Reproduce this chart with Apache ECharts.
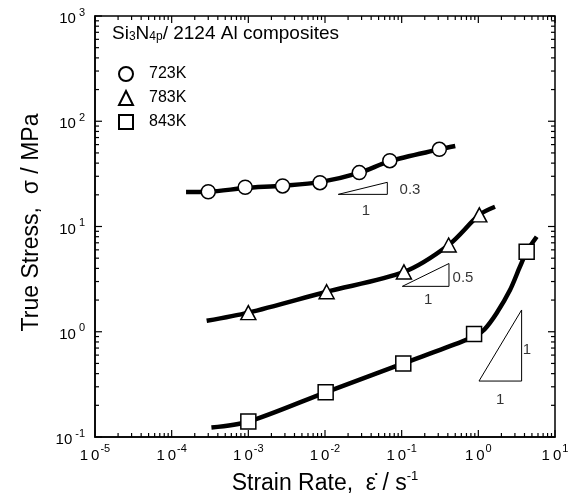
<!DOCTYPE html>
<html><head><meta charset="utf-8">
<script src="https://cdn.jsdelivr.net/npm/echarts@6/dist/echarts.min.js"></script>
<style>html,body{margin:0;padding:0;background:#fff}#c{width:585px;height:496px}</style>
</head><body><div id="c"></div>
<script>
// ---- axis ranges & tick labels ----
const xMin = 1e-5, xMax = 10, yMin = 0.1, yMax = 1000;
const xExp = ['-5', '-4', '-3', '-2', '-1', '0', '1'];
const yExp = ['-1', '0', '1', '2', '3'];
const seriesNames = ['723K', '783K', '843K'];

// ---- measured data points (strain rate, true stress) ----
const pts723 = [[3.0e-4, 21.4], [9.1e-4, 23.6], [2.8e-3, 24.3], [8.6e-3, 26.1], [2.8e-2, 32.5], [7.0e-2, 42.2], [0.31, 54.1]];
const pts783 = [[1.0e-3, 1.52], [1.05e-2, 2.4], [0.107, 3.7], [0.41, 6.67], [1.03, 12.9]];
const pts843 = [[1.0e-3, 0.14], [1.02e-2, 0.266], [0.105, 0.5], [0.88, 0.95], [4.27, 5.76]];

// ---- fitted curves ----
const fit723 = [[1.54e-4, 21.3], [3.0e-4, 21.4], [9.1e-4, 23.2], [2.8e-3, 24.4], [8.6e-3, 26.4], [2.8e-2, 32.3], [7.0e-2, 41.8], [0.31, 54], [0.5, 58.2]];
const fit783 = [[2.86e-4, 1.27], [1.0e-3, 1.52], [1.05e-2, 2.4], [0.107, 3.7], [0.41, 6.67], [1.03, 12.9], [1.65, 15.4]];
const fit843 = [[3.3e-4, 0.123], [1.0e-3, 0.14], [1.02e-2, 0.266], [0.105, 0.5], [0.6, 0.8], [0.95, 0.93], [1.2, 1.05], [1.73, 1.5], [2.59, 2.49], [3.49, 4.15], [4.27, 5.76], [5.77, 8.0]];

// ---- slope triangles (annotations) ----
const triA = [[0.0149, 20.2], [0.065, 20.2], [0.065, 26.3], [0.0149, 20.2]];
const triB = [[0.102, 2.7], [0.414, 2.7], [0.414, 4.45], [0.102, 2.7]];
const triC = [[1.02, 0.34], [3.67, 0.34], [3.67, 1.61], [1.02, 0.34]];
const annotText = ['0.3', '1', '0.5', '1', '1', '1'];
const annotPos = [[0.1285, 22.2], [0.0343, 14.1], [0.631, 3.24], [0.222, 2.0], [4.31, 0.671], [1.92, 0.225]];

// tick positions (decades and 2..9 subdivisions)
const xTicks = [], yTicks = [];
for (let k = -5; k <= 1; k++) for (let m = 1; m <= 9; m++) { const v = m * Math.pow(10, k); if (v <= xMax * 1.0001) xTicks.push(v); }
for (let k = -1; k <= 3; k++) for (let m = 1; m <= 9; m++) { const v = m * Math.pow(10, k); if (v <= yMax * 1.0001) yTicks.push(v); }
function isDecade(v) { const l = Math.log10(v); return Math.abs(l - Math.round(l)) < 1e-6; }

const FONT = 'Liberation Sans, Arial, sans-serif';
const chart = echarts.init(document.getElementById('c'), null, { renderer: 'canvas' });

const lineStyle = { color: '#000', width: 4.5 };
const markStyle = { color: '#fff', borderColor: '#000', borderWidth: 1.5, opacity: 1 };
const thin = { color: '#000', width: 1 };

function tickSeriesX() {
  return {
    type: 'custom', coordinateSystem: 'cartesian2d', silent: true, z: 1,
    data: xTicks.map(v => [v, 1]),
    renderItem: (p, api) => {
      const v = api.value(0);
      const len = isDecade(v) ? 7 : 4;
      const b = api.coord([v, yMin]), t = api.coord([v, yMax]);
      const st = { stroke: '#000', lineWidth: 1.2 };
      return { type: 'group', children: [
        { type: 'line', shape: { x1: b[0], y1: b[1], x2: b[0], y2: b[1] - len }, style: st },
        { type: 'line', shape: { x1: t[0], y1: t[1], x2: t[0], y2: t[1] + len }, style: st }
      ] };
    }
  };
}
function tickSeriesY() {
  return {
    type: 'custom', coordinateSystem: 'cartesian2d', silent: true, z: 1,
    data: yTicks.map(v => [1, v]),
    renderItem: (p, api) => {
      const v = api.value(1);
      const len = isDecade(v) ? 7 : 4;
      const l = api.coord([xMin, v]), r = api.coord([xMax, v]);
      const st = { stroke: '#000', lineWidth: 1.2 };
      return { type: 'group', children: [
        { type: 'line', shape: { x1: l[0], y1: l[1], x2: l[0] + len, y2: l[1] }, style: st },
        { type: 'line', shape: { x1: r[0], y1: r[1], x2: r[0] - len, y2: r[1] }, style: st }
      ] };
    }
  };
}

const option = {
  backgroundColor: '#fff',
  animation: false,
  textStyle: { fontFamily: FONT, color: '#000' },
  title: {
    text: 'Si{sub|3}N{sub|4p}/ 2124 Al composites',
    left: 112, top: 24, padding: 0,
    textStyle: {
      fontSize: 19, fontWeight: 'normal', fontFamily: FONT, color: '#000',
      rich: {
        sub: { fontSize: 12, fontFamily: FONT, color: '#000', verticalAlign: 'bottom', lineHeight: 16 }
      }
    }
  },
  legend: {
    data: seriesNames,
    orient: 'vertical', left: 118, top: 66, padding: 0,
    itemWidth: 14, itemHeight: 14, itemGap: 8,
    textStyle: { fontSize: 16, fontFamily: FONT, color: '#000', padding: [0, 0, 0, 11] },
    selectedMode: false
  },
  grid: {
    left: 95, right: 30, top: 16, bottom: 59, show: true, borderColor: '#000', borderWidth: 1.5,
    backgroundColor: 'transparent', containLabel: false, outerBoundsMode: 'none'
  },
  xAxis: {
    type: 'log', logBase: 10, min: xMin, max: xMax,
    axisLine: { show: true, lineStyle: { color: '#000', width: 1.5 } },
    axisTick: { show: false }, splitLine: { show: false },
    axisLabel: {
      margin: 6, color: '#000', showMinLabel: true, showMaxLabel: true,
      formatter: (v, i) => '{b|1}{g|0}{s|' + xExp[i] + '}',
      rich: {
        b: { fontSize: 15, fontFamily: FONT, color: '#000', lineHeight: 26 },
        g: { fontSize: 15, fontFamily: FONT, color: '#000', lineHeight: 26, padding: [0, 0, 0, 3] },
        s: { fontSize: 11, fontFamily: FONT, color: '#000', lineHeight: 10, verticalAlign: 'top', padding: [0, 0, 0, 1] }
      }
    },
    name: '{t|Strain Rate,  ε̇ / s}{s|-1}',
    nameLocation: 'middle', nameGap: 33,
    nameTextStyle: {
      rich: {
        t: { fontSize: 23, fontFamily: FONT, color: '#000', lineHeight: 28 },
        s: { fontSize: 13, fontFamily: FONT, color: '#000', lineHeight: 14, verticalAlign: 'top' }
      }
    }
  },
  yAxis: {
    type: 'log', logBase: 10, min: yMin, max: yMax,
    axisLine: { show: true, lineStyle: { color: '#000', width: 1.5 } },
    axisTick: { show: false }, splitLine: { show: false },
    axisLabel: {
      margin: 10, color: '#000', showMinLabel: true, showMaxLabel: true,
      padding: [6, 0, 0, 0],
      formatter: (v, i) => '{b|10}{s|' + yExp[i] + '}',
      rich: {
        b: { fontSize: 15, fontFamily: FONT, color: '#000', lineHeight: 24 },
        s: { fontSize: 11, fontFamily: FONT, color: '#000', lineHeight: 10, verticalAlign: 'top', padding: [0, 0, 0, 3] }
      }
    },
    name: 'True Stress,  σ / MPa',
    nameLocation: 'middle', nameGap: 52, nameRotate: 90,
    nameTextStyle: { fontSize: 23, fontFamily: FONT, color: '#000', padding: [0, 0, 0, 8] }
  },
  series: [
    tickSeriesX(), tickSeriesY(),
    { name: 'fit723', type: 'line', data: fit723, symbol: 'none', smooth: 0.3, lineStyle: lineStyle, z: 2 },
    { name: 'fit783', type: 'line', data: fit783, symbol: 'none', smooth: 0.3, lineStyle: lineStyle, z: 2 },
    { name: 'fit843', type: 'line', data: fit843, symbol: 'none', smooth: 0.3, lineStyle: lineStyle, z: 2 },
    { name: 'triA', type: 'line', data: triA, symbol: 'none', lineStyle: thin, z: 2 },
    { name: 'triB', type: 'line', data: triB, symbol: 'none', lineStyle: thin, z: 2 },
    { name: 'triC', type: 'line', data: triC, symbol: 'none', lineStyle: thin, z: 2 },
    {
      name: 'annot', type: 'scatter', symbolSize: 0, z: 2, silent: true,
      data: annotPos.map((p, i) => ({ value: p, name: annotText[i] })),
      label: { show: true, position: 'inside', formatter: '{b}', fontSize: 15, fontFamily: FONT, color: '#000' }
    },
    { name: seriesNames[0], type: 'scatter', data: pts723, symbol: 'circle', symbolSize: 14, itemStyle: markStyle, z: 4 },
    { name: seriesNames[1], type: 'scatter', data: pts783, symbol: 'triangle', symbolSize: [15, 14], itemStyle: markStyle, z: 4 },
    { name: seriesNames[2], type: 'scatter', data: pts843, symbol: 'rect', symbolSize: 15, itemStyle: markStyle, z: 4 }
  ]
};
chart.setOption(option);
</script>
</body></html>
